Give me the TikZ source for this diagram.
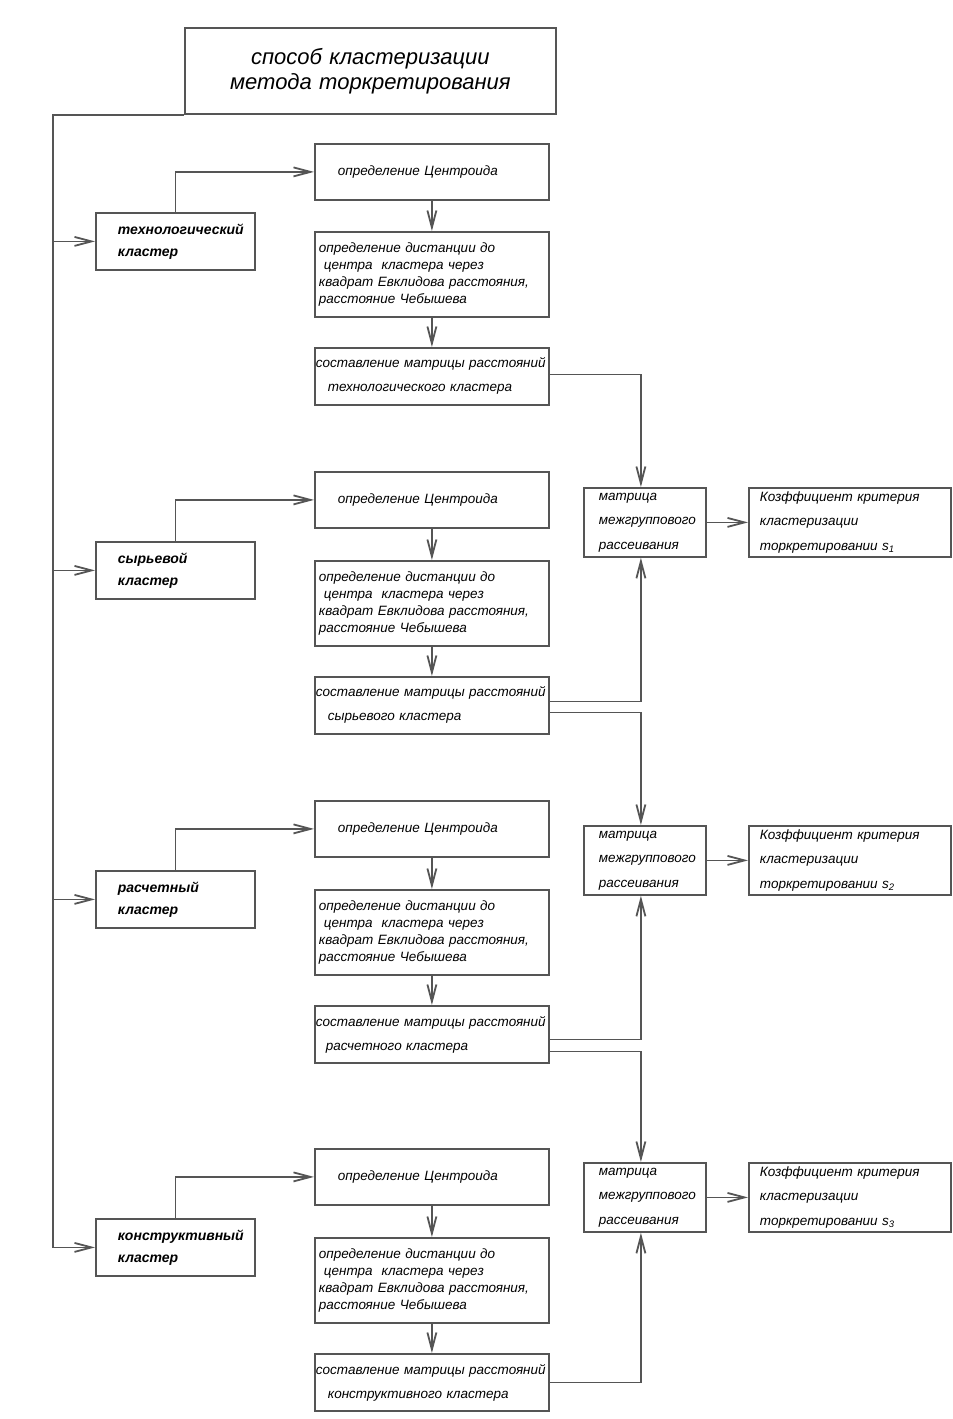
\documentclass[tikz,border=0pt]{standalone}
\usepackage{fontspec}
\setmainfont{Liberation Sans}
\usetikzlibrary{arrows.meta}
\definecolor{lc}{HTML}{555555}
\tikzset{
  bx/.style={draw=lc, line width=1.8pt, rectangle, anchor=north west, align=left, inner ysep=0pt,
    font=\fontsize{13.5}{17}\selectfont\itshape},
  titlebox/.style={bx, minimum height=86pt, inner xsep=0pt, text width=371pt, align=center,
    font=\fontsize{22}{25}\selectfont\itshape},
  clus/.style={bx, minimum height=57pt, inner xsep=22pt, text width=115pt,
    font=\fontsize{14}{22}\selectfont\bfseries\itshape},
  cen/.style={bx, minimum height=56pt, inner xsep=23pt, text width=188pt},
  dst/.style={bx, minimum height=85pt, inner xsep=4pt, text width=226pt,
    font=\fontsize{13.5}{17}\selectfont\itshape},
  mat/.style={bx, minimum height=57pt, inner xsep=1pt, text width=232pt,
    font=\fontsize{13.5}{24}\selectfont\itshape},
  mgb/.style={bx, minimum height=69pt, inner xsep=15pt, text width=92pt,
    font=\fontsize{13.5}{24.5}\selectfont\itshape},
  cfb/.style={bx, minimum height=69pt, inner xsep=11pt, text width=180pt,
    font=\fontsize{13.5}{24.5}\selectfont\itshape},
  arr/.style={draw=lc, line width=1.8pt, -{Straight Barb[length=17pt,width=9pt]}},
}
\begin{document}
\begin{tikzpicture}[x=1pt, y=-1pt]
\useasboundingbox (0,0) rectangle (953,1419);
\fill[white] (0,0) rectangle (953,1419);

% title
\node[titlebox] (title) at (184,27) {способ кластеризации\\метода торкретирования};

% cluster boxes
\node[clus] (clu1) at (95,212) {технологический\\кластер};
\node[clus] (clu2) at (95,541) {сырьевой\\кластер};
\node[clus] (clu3) at (95,870) {расчетный\\кластер};
\node[clus] (clu4) at (95,1218) {конструктивный\\кластер};

% centroid boxes
\node[cen] (cen1) at (314,143) {определение Центроида};
\node[cen] (cen2) at (314,471) {определение Центроида};
\node[cen] (cen3) at (314,800) {определение Центроида};
\node[cen] (cen4) at (314,1148) {определение Центроида};

% distance boxes
\node[dst] (dst1) at (314,231) {определение дистанции до\\\hspace*{5pt}центра\ \ кластера через\\квадрат Евклидова расстояния,\\расстояние Чебышева};
\node[dst] (dst2) at (314,560) {определение дистанции до\\\hspace*{5pt}центра\ \ кластера через\\квадрат Евклидова расстояния,\\расстояние Чебышева};
\node[dst] (dst3) at (314,889) {определение дистанции до\\\hspace*{5pt}центра\ \ кластера через\\квадрат Евклидова расстояния,\\расстояние Чебышева};
\node[dst] (dst4) at (314,1237) {определение дистанции до\\\hspace*{5pt}центра\ \ кластера через\\квадрат Евклидова расстояния,\\расстояние Чебышева};

% matrix boxes
\node[mat] (mat1) at (314,347) {составление матрицы расстояний\\\hspace*{12pt}технологического кластера};
\node[mat] (mat2) at (314,676) {составление матрицы расстояний\\\hspace*{12pt}сырьевого кластера};
\node[mat] (mat3) at (314,1005) {составление матрицы расстояний\\\hspace*{10pt}расчетного кластера};
\node[mat] (mat4) at (314,1353) {составление матрицы расстояний\\\hspace*{12pt}конструктивного кластера};

% inter-group matrices
\node[mgb] (mg1) at (583,487) {матрица\\межгруппового\\рассеивания};
\node[mgb] (mg2) at (583,825) {матрица\\межгруппового\\рассеивания};
\node[mgb] (mg3) at (583,1162) {матрица\\межгруппового\\рассеивания};

% coefficients
\node[cfb] (cf1) at (748,487) {Козффициент критерия\\кластеризации\\торкретировании s\textsubscript{1}};
\node[cfb] (cf2) at (748,825) {Козффициент критерия\\кластеризации\\торкретировании s\textsubscript{2}};
\node[cfb] (cf3) at (748,1162) {Козффициент критерия\\кластеризации\\торкретировании s\textsubscript{3}};

% trunk
\path (title.south west) ++(-131,0) coordinate (trunk);
\draw[arr] (title.south west) -- (trunk) |- (clu4.west);
\draw[arr] (trunk |- clu1.west) -- (clu1.west);
\draw[arr] (trunk |- clu2.west) -- (clu2.west);
\draw[arr] (trunk |- clu3.west) -- (clu3.west);

% cluster -> centroid -> distance -> matrix
\foreach \i in {1,2,3,4}{
  \draw[arr] (clu\i.north) |- (cen\i.west);
  \draw[arr] (cen\i.south) -- (dst\i.north);
  \draw[arr] (dst\i.south) -- (mat\i.north);
}

% matrices -> inter-group matrices
\draw[arr] ([yshift=2pt]mat1.east) -| ([xshift=-4pt]mg1.north);
\draw[arr] ([yshift=4pt]mat2.east) -| ([xshift=-4pt]mg1.south);
\draw[arr] ([yshift=-7pt]mat2.east) -| ([xshift=-4pt]mg2.north);
\draw[arr] ([yshift=-5pt]mat3.east) -| ([xshift=-4pt]mg2.south);
\draw[arr] ([yshift=-17pt]mat3.east) -| ([xshift=-4pt]mg3.north);
\draw[arr] (mat4.east) -| ([xshift=-4pt]mg3.south);

% inter-group -> coefficient
\draw[arr] (mg1.east) -- (cf1.west);
\draw[arr] (mg2.east) -- (cf2.west);
\draw[arr] (mg3.east) -- (cf3.west);
\end{tikzpicture}
\end{document}
